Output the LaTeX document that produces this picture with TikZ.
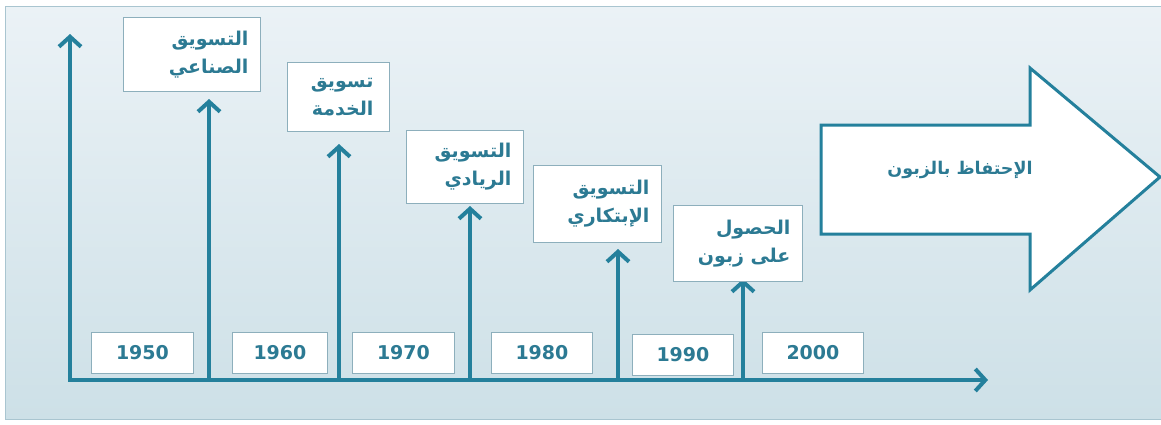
\documentclass[tikz,border=0pt]{standalone}
\usepackage{fontspec}
\usetikzlibrary{arrows.meta}
\TeXXeTstate=1
\newfontfamily\arfont[Script=Arabic]{DejaVu Sans}
\newfontfamily\yrfont{DejaVu Sans}
\definecolor{teal1}{HTML}{24809C}
\definecolor{txtc}{HTML}{2C7A93}
\definecolor{bordc}{HTML}{8DAFBC}
\definecolor{bgtop}{HTML}{EBF2F6}
\definecolor{bgbot}{HTML}{CDE0E7}
\definecolor{panelc}{HTML}{A9C5D0}
\tikzset{
  axisline/.style={draw=teal1, line width=4pt, -{Straight Barb[length=10pt,width=22pt,line width=4pt]}},
  stem/.style={draw=teal1, line width=4.2pt, -{Straight Barb[length=10pt,width=22pt,line width=4pt]}},
  tbox/.style={draw=bordc, fill=white, line width=0.9pt, font=\arfont\bfseries\fontsize{19}{28}\selectfont, text=txtc, align=right, inner ysep=0pt, anchor=north west},
  ybox/.style={draw=bordc, fill=white, line width=0.9pt, font=\yrfont\bfseries\fontsize{19}{20}\selectfont, text=txtc, inner sep=0pt, anchor=north west},
}
\begin{document}
\begin{tikzpicture}[x=1pt,y=-1pt]
\useasboundingbox (0,0) rectangle (1161,424);
% panel
\shade[top color=bgtop, bottom color=bgbot] (5,6) rectangle (1161,419);
\draw[panelc, line width=1pt] (1161,6) -- (5,6) -- (5,419) -- (1161,419);

% coordinates
\coordinate (o) at (70,380);
\coordinate (ytip) at (70,34);
\coordinate (xtip) at (988,380);
\coordinate (b1) at (209,380); \coordinate (t1) at (209,99);
\coordinate (b2) at (339,380); \coordinate (t2) at (339,144);
\coordinate (b3) at (470,380); \coordinate (t3) at (470,206);
\coordinate (b4) at (618,380); \coordinate (t4) at (618,249);
\coordinate (b5) at (743,380); \coordinate (t5) at (743,279);

% year boxes
\node[ybox, minimum width=102pt, minimum height=41pt] (y1) at (91,332) {1950};
\node[ybox, minimum width=95pt, minimum height=41pt] (y2) at (232,332) {1960};
\node[ybox, minimum width=102pt, minimum height=41pt] (y3) at (352,332) {1970};
\node[ybox, minimum width=101pt, minimum height=41pt] (y4) at (491,332) {1980};
\node[ybox, minimum width=101pt, minimum height=41pt] (y5) at (632,334) {1990};
\node[ybox, minimum width=101pt, minimum height=41pt] (y6) at (762,332) {2000};

% axes
\draw[axisline] (o) -- (ytip);
\draw[axisline] ([xshift=-2pt]o) -- (xtip);
\draw[stem] (b1) -- (t1);
\draw[stem] (b2) -- (t2);
\draw[stem] (b3) -- (t3);
\draw[stem] (b4) -- (t4);
\draw[stem] (b5) -- (t5);

% top boxes
\node[tbox, text width=113pt, inner xsep=12pt, minimum height=74pt] (n1) at (123,17) {\beginR التسويق\endR\\\beginR الصناعي\endR};
\node[tbox, text width=70pt, inner xsep=16pt, minimum height=69pt] (n2) at (287,62) {\beginR تسويق\endR\\\beginR الخدمة\endR};
\node[tbox, text width=93pt, inner xsep=12pt, minimum height=73pt] (n3) at (406,130) {\beginR التسويق\endR\\\beginR الريادي\endR};
\node[tbox, text width=104pt, inner xsep=12pt, minimum height=77pt] (n4) at (533,165) {\beginR التسويق\endR\\\beginR الإبتكاري\endR};
\node[tbox, text width=105pt, inner xsep=12pt, minimum height=76pt] (n5) at (673,205) {\beginR الحصول\endR\\\beginR على زبون\endR};

% big arrow
\draw[teal1, line width=3pt, fill=white, line join=miter]
  (821,125) -- (1030,125) -- (1030,68) -- (1160,177) -- (1030,290) -- (1030,234) -- (821,234) -- cycle;
\node[font=\arfont\bfseries\fontsize{17.5}{20}\selectfont, text=txtc] (big) at (960,170) {\beginR الإحتفاظ بالزبون\endR};
\end{tikzpicture}
\end{document}
